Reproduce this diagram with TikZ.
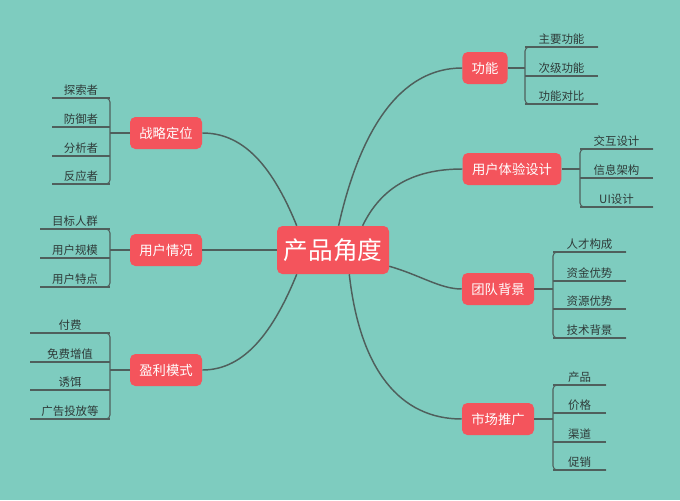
\documentclass[tikz,border=0pt]{standalone}
\usepackage{fontspec}
\setmainfont{Noto Sans CJK SC}
\definecolor{bg}{HTML}{7ECCBF}
\definecolor{boxred}{HTML}{F4545C}
\definecolor{ln}{HTML}{4F5F5C}
\definecolor{txt}{HTML}{2E3A38}
\tikzset{
 br/.style={fill=boxred,text=white,rounded corners=4pt,font=\fontsize{10}{12}\selectfont,inner xsep=7pt,minimum height=24pt},
 leaf/.style={text=txt,font=\fontsize{8.6}{10}\selectfont,anchor=south,inner sep=1pt},
 con/.style={draw=ln,line width=1.1pt},
 brk/.style={draw=ln,line width=0.8pt,rounded corners=3pt}
}
\newcommand{\leafgrp}[5]{%
 \foreach \yy/\lbl [count=\i] in {#4}{
  \node[leaf] (#5\i) at ({(#1+#2)/2},\yy-1) {\lbl};
  \draw[brk] (#1,\yy) -- (#2,\yy);
 }
}
\begin{document}
\begin{tikzpicture}[x=0.75pt,y=-0.75pt]
\fill[bg] (0,0) rectangle (680,500);
\useasboundingbox (0,0) rectangle (680,500);
\node[fill=boxred,text=white,rounded corners=4pt,font=\fontsize{18.5}{22}\selectfont,minimum width=84pt,minimum height=36pt] (c) at (333,250) {产品角度};
\node[br] (a) at (166,133) {战略定位};
\node[br] (b) at (166,250) {用户情况};
\node[br] (d) at (166,370) {盈利模式};
\node[br] (e) at (485,68) {功能};
\node[br] (f) at (512,169) {用户体验设计};
\node[br] (g) at (498,289) {团队背景};
\node[br] (h) at (498,419) {市场推广};
\draw[con] ([xshift=15pt]c.north west) .. controls (270,160) and (240,133) .. (a.east);
\draw[con] (c.west) -- (b.east);
\draw[con] ([xshift=15pt]c.south west) .. controls (270,340) and (240,370) .. (d.east);
\draw[con] ([xshift=-38pt]c.north east) .. controls (360,130) and (400,68) .. (e.west);
\draw[con] ([xshift=-20pt]c.north east) .. controls (380,190) and (410,169) .. (f.west);
\draw[con] ([yshift=6pt]c.south east) .. controls (420,275) and (440,289) .. (g.west);
\draw[con] ([xshift=-30pt]c.south east) .. controls (360,370) and (400,419) .. (h.west);
\leafgrp{52}{110}{133}{98/探索者,127/防御者,156/分析者,184/反应者}{la}
\draw[brk] (52,98) -- (110,98) -- (110,184) -- (52,184);
\draw[brk] (110,133) -- (a.west);
\leafgrp{40}{110}{250}{229/目标人群,258/用户规模,287/用户特点}{lb}
\draw[brk] (40,229) -- (110,229) -- (110,287) -- (40,287);
\draw[brk] (110,250) -- (b.west);
\leafgrp{30}{110}{370}{333/付费,362/免费增值,390/诱饵,419/广告投放等}{ld}
\draw[brk] (30,333) -- (110,333) -- (110,419) -- (30,419);
\draw[brk] (110,370) -- (d.west);
\leafgrp{598}{525}{68}{47/主要功能,76/次级功能,104/功能对比}{le}
\draw[brk] (598,47) -- (525,47) -- (525,104) -- (598,104);
\draw[brk] (525,68) -- (e.east);
\leafgrp{653}{580}{169}{149/交互设计,178/信息架构,207/UI设计}{lf}
\draw[brk] (653,149) -- (580,149) -- (580,207) -- (653,207);
\draw[brk] (580,169) -- (f.east);
\leafgrp{626}{553}{289}{252/人才构成,281/资金优势,309/资源优势,338/技术背景}{lg}
\draw[brk] (626,252) -- (553,252) -- (553,338) -- (626,338);
\draw[brk] (553,289) -- (g.east);
\leafgrp{606}{553}{419}{385/产品,413/价格,442/渠道,470/促销}{lh}
\draw[brk] (606,385) -- (553,385) -- (553,470) -- (606,470);
\draw[brk] (553,419) -- (h.east);
\end{tikzpicture}
\end{document}
